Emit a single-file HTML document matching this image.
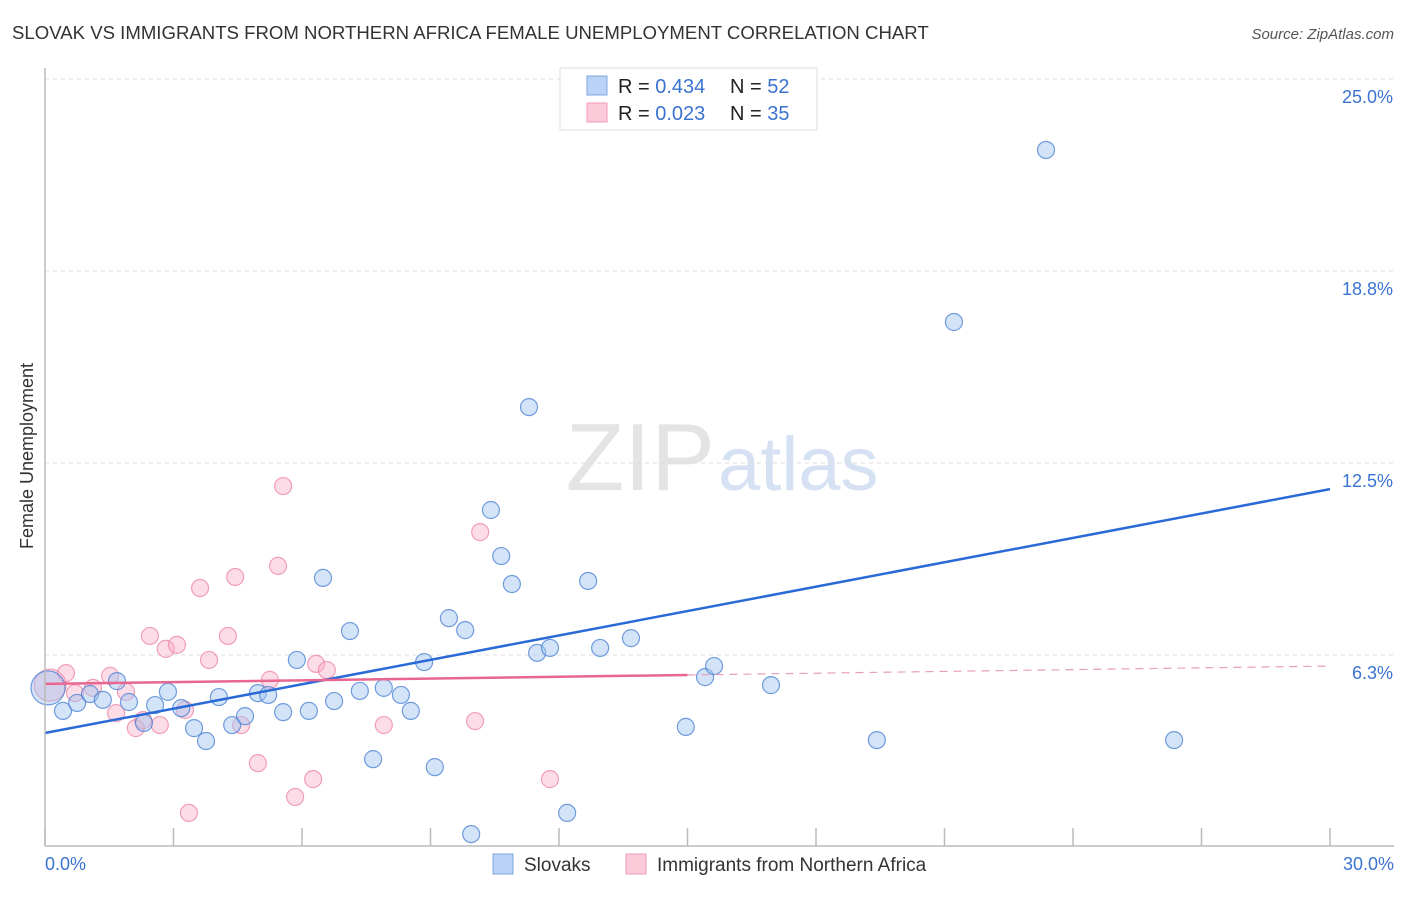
<!DOCTYPE html>
<html><head><meta charset="utf-8"><style>
body{margin:0;background:#fff;font-family:"Liberation Sans",sans-serif;}
svg text{font-family:"Liberation Sans",sans-serif;}
</style></head><body>
<svg id="chart" width="1406" height="892" xmlns="http://www.w3.org/2000/svg">
<text x="12" y="39" font-size="18.6" fill="#333">SLOVAK VS IMMIGRANTS FROM NORTHERN AFRICA FEMALE UNEMPLOYMENT CORRELATION CHART</text>
<text x="1394" y="39" font-size="15" fill="#555" font-style="italic" text-anchor="end">Source: ZipAtlas.com</text>
<text x="33" y="456" font-size="18" fill="#333" text-anchor="middle" transform="rotate(-90 33 456)">Female Unemployment</text>
<text x="715" y="490" font-size="96" fill="#e4e4e4" text-anchor="end" font-family="Liberation Serif">ZIP</text>
<text x="718" y="490" font-size="76" fill="#d6e2f3">atlas</text>
<g id="grid"></g><g id="ticks"></g><g id="marks"></g>
<line x1="45" y1="68" x2="45" y2="846" stroke="#bbb" stroke-width="1.5"/>
<line x1="45" y1="846" x2="1394" y2="846" stroke="#bbb" stroke-width="1.5"/>
<text x="45" y="870" font-size="18" fill="#3b73d1">0.0%</text>
<text x="1394" y="870" font-size="18" fill="#3b73d1" text-anchor="end">30.0%</text>
<g>
<rect x="560" y="68" width="257" height="62" fill="#fff" stroke="#ddd"/>
<rect x="587" y="76" width="20" height="19" fill="#b9d2f5" stroke="#7fa6e0"/>
<rect x="587" y="103" width="20" height="19" fill="#fbcbd9" stroke="#f09ab4"/>
<text x="618" y="93" font-size="20" fill="#222">R = <tspan fill="#3b73d1">0.434</tspan></text>
<text x="730" y="93" font-size="20" fill="#222">N = <tspan fill="#3b73d1">52</tspan></text>
<text x="618" y="120" font-size="20" fill="#222">R = <tspan fill="#3b73d1">0.023</tspan></text>
<text x="730" y="120" font-size="20" fill="#222">N = <tspan fill="#3b73d1">35</tspan></text>
</g>
<g>
<rect x="493" y="854" width="20" height="20" fill="#b9d2f5" stroke="#7fa6e0"/>
<text x="524" y="871" font-size="19" fill="#333">Slovaks</text>
<rect x="626" y="854" width="20" height="20" fill="#fbcbd9" stroke="#f09ab4"/>
<text x="657" y="871" font-size="19" fill="#333">Immigrants from Northern Africa</text>
</g>
</svg>
<script>
const yTicks=[6.25,12.5,18.75,25];
const yTickLabels=["6.3%","12.5%","18.8%","25.0%"];
const xTicks=[0,3,6,9,12,15,18,21,24,27,30];
const slovakX=[0.07,0.42,0.75,1.05,1.35,1.68,1.96,2.31,2.57,2.87,3.18,3.48,3.76,4.06,4.37,4.67,4.97,5.21,5.56,5.88,6.16,6.49,6.75,7.12,7.35,7.66,7.91,8.31,8.54,8.85,9.10,9.43,9.81,9.95,10.41,10.65,10.90,11.30,11.49,11.79,12.19,12.68,12.96,13.68,14.96,15.41,15.62,16.95,19.42,21.22,23.37,26.36];
const slovakY=[5.18,4.43,4.69,4.98,4.79,5.40,4.72,4.04,4.62,5.05,4.52,3.87,3.45,4.88,3.97,4.26,5.01,4.95,4.39,6.09,4.43,8.76,4.75,7.03,5.08,2.86,5.18,4.95,4.43,6.02,2.60,7.45,7.06,0.42,10.97,9.47,8.56,14.32,6.32,6.48,1.11,8.66,6.48,6.80,3.91,5.53,5.89,5.27,3.48,17.09,22.69,3.48];
const immX=[0.12,0.49,0.70,1.12,1.52,1.66,1.89,2.12,2.29,2.45,2.68,2.82,3.08,3.27,3.36,3.62,3.83,4.27,4.44,4.58,4.97,5.25,5.44,5.56,5.84,6.26,6.33,6.58,7.91,10.04,10.16,11.79];
const immY=[5.27,5.66,5.01,5.18,5.57,4.36,5.05,3.87,4.13,6.87,3.97,6.45,6.58,4.46,1.11,8.43,6.09,6.87,8.79,3.97,2.73,5.44,9.15,11.75,1.63,2.21,5.96,5.76,3.97,4.10,10.25,2.21];
const slovakTrend=[3.71,11.65];
const immTrend=[5.31,5.89];
const immSolidEnd=15;
const X=v=>45+v/30*1285;
const Y=v=>847-v*30.72;
const NS="http://www.w3.org/2000/svg";
function mk(parent,tag,attrs){const e=document.createElementNS(NS,tag);for(const k in attrs)e.setAttribute(k,attrs[k]);document.getElementById(parent).appendChild(e);return e;}
yTicks.forEach((t,i)=>{
 const g=mk('grid','line',{x1:45,x2:1394,y1:Y(t),y2:Y(t),stroke:'#ddd','stroke-dasharray':'4 4'});
 
 
 const l=mk('grid','text',{x:1393,y:Y(t)+24,'font-size':18,fill:'#3b73d1','text-anchor':'end'});
 l.textContent=yTickLabels[i];
 
 
});
xTicks.forEach(t=>{
 const e=mk('ticks','line',{x1:X(t),x2:X(t),y1:828,y2:846,stroke:'#bbb','stroke-width':1.5});
 
 
});
immX.forEach((x,i)=>{
 const c=mk('marks','circle',{cx:X(x),cy:Y(immY[i]),r:i==0?16:8.5,fill:'rgba(248,170,195,0.4)',stroke:'rgba(236,130,165,0.75)','stroke-width':1.2});
 
 
});
slovakX.forEach((x,i)=>{
 const c=mk('marks','circle',{cx:X(x),cy:Y(slovakY[i]),r:i==0?17:8.5,fill:'rgba(160,195,240,0.45)',stroke:'rgba(70,125,210,0.75)','stroke-width':1.2});
 
 
});
const bl=mk('marks','line',{x1:X(0),y1:Y(slovakTrend[0]),x2:X(30),y2:Y(slovakTrend[1]),stroke:'#2a6ad6','stroke-width':2.5});


const pm=immTrend[0]+(immTrend[1]-immTrend[0])*immSolidEnd/30;
const pl=mk('marks','line',{x1:X(0),y1:Y(immTrend[0]),x2:X(immSolidEnd),y2:Y(pm),stroke:'#e8668f','stroke-width':2.5});


const pd=mk('marks','line',{x1:X(immSolidEnd),y1:Y(pm),x2:X(30),y2:Y(immTrend[1]),stroke:'#e8a0b6','stroke-width':1.2,'stroke-dasharray':'8 6'});


</script>
</body></html>
